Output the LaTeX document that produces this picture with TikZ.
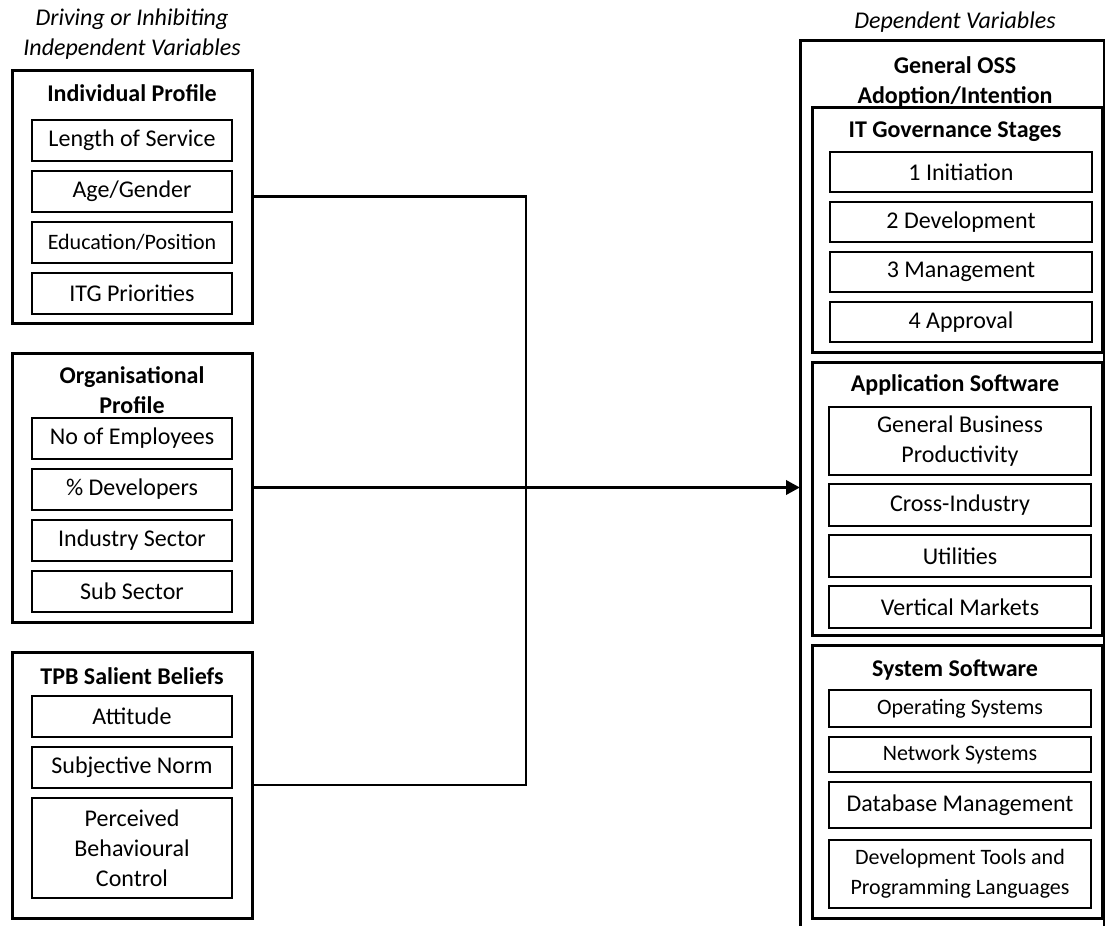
\documentclass[tikz,border=0pt]{standalone}
\usepackage{fontspec}
\setmainfont{Carlito}
\usepackage{tikz}
\usetikzlibrary{positioning,arrows.meta}

\begin{document}
\begin{tikzpicture}[
  x=0.5pt, y=-0.5pt,
  font=\fontsize{12}{15}\selectfont,
  node distance=5pt,
  grupo/.style={rectangle, draw, line width=1.5pt, outer sep=0pt, anchor=north west},
  caja/.style={rectangle, draw, line width=1.4pt, outer sep=0pt, inner sep=2pt, minimum height=20.5pt, align=center},
  izq/.style={caja, minimum width=100pt},
  der/.style={caja, minimum width=131pt},
  titulo/.style={font=\fontsize{12}{15}\selectfont\bfseries, align=center, inner sep=0pt},
  encabezado/.style={font=\fontsize{12}{15}\selectfont\itshape, align=center, inner sep=0pt},
  chica/.style={font=\fontsize{11}{15}\selectfont},
  linea/.style={draw, line width=1.4pt},
  flecha/.style={-{Triangle[length=7pt, width=7pt]}, draw, line width=1.8pt}
]
\useasboundingbox (0,0) rectangle (1105,926);
\clip (0,0) rectangle (1105,926);

% encabezados
\node[encabezado] (hizq) at (132,34) {Driving or Inhibiting\\Independent Variables};
\node[encabezado] (hder) at (955,22) {Dependent Variables};

% variables independientes
\node[grupo, minimum width=120pt, minimum height=126.5pt] (ip) at (12,70) {};
\node[titulo] (tip) at (132,93) {Individual Profile};
\node[izq, anchor=north] (los) at (132,120) {Length of Service};
\node[izq, below=of los] (ag) {Age/Gender};
\node[izq, chica, below=of ag] (ep) {Education/Position};
\node[izq, below=of ep] (itg) {ITG Priorities};

\node[grupo, minimum width=120pt, minimum height=134.5pt] (op) at (12,353) {};
\node[titulo] (top) at (132,390) {Organisational\\Profile};
\node[izq, anchor=north] (ne) at (132,418) {No of Employees};
\node[izq, below=of ne] (pd) {\% Developers};
\node[izq, below=of pd] (is) {Industry Sector};
\node[izq, below=of is] (sub) {Sub Sector};

\node[grupo, minimum width=120pt, minimum height=133pt] (tpb) at (12,652) {};
\node[titulo] (ttpb) at (132,676) {TPB Salient Beliefs};
\node[izq, anchor=north] (att) at (132,696) {Attitude};
\node[izq, below=of att] (sn) {Subjective Norm};
\node[izq, below=of sn, minimum height=50pt] (pbc) {Perceived\\Behavioural\\Control};

% variables dependientes
\node[grupo, minimum width=152pt, minimum height=460pt] (dv) at (800,40) {};
\node[titulo] (tdv) at (955,82) {General OSS\\Adoption/Intention};

\node[grupo, minimum width=145pt, minimum height=122.5pt] (itgs) at (812,107) {};
\node[titulo] (titgs) at (955,132) {IT Governance Stages};
\node[der, anchor=north, minimum height=20pt] (s1) at (961,152) {1 Initiation};
\node[der, below=of s1, minimum height=20pt] (s2) {2 Development};
\node[der, below=of s2, minimum height=20pt] (s3) {3 Management};
\node[der, below=of s3, minimum height=20pt] (s4) {4 Approval};

\node[grupo, minimum width=145pt, minimum height=136.5pt] (as) at (812,362) {};
\node[titulo] (tas) at (955,385) {Application Software};
\node[der, anchor=north, minimum height=34pt] (gbp) at (960,407) {General Business\\Productivity};
\node[der, below=4.5pt of gbp, minimum height=21pt] (ci) {Cross-Industry};
\node[der, below=4.5pt of ci, minimum height=21pt] (ut) {Utilities};
\node[der, below=4.5pt of ut, minimum height=21pt] (vm) {Vertical Markets};

\node[grupo, minimum width=145pt, minimum height=136.5pt] (ss) at (812,645) {};
\node[titulo] (tss) at (955,670) {System Software};
\node[der, chica, anchor=north, minimum height=18.5pt] (os) at (960,690) {Operating Systems};
\node[der, chica, below=of os, minimum height=17.5pt] (ns) {Network Systems};
\node[der, below=of ns, minimum height=23pt] (db) {Database Management};
\node[der, chica, below=6pt of db, minimum height=34pt] (dt) {Development Tools and\\Programming Languages};

% conexiones
\coordinate (bus) at (526,487);
\draw[linea] (ip.east) -- (ip.east -| bus) -- (tpb.east -| bus) -- (tpb.east);
\draw[linea] (op.east) -- (op.east -| bus);
\draw[flecha] (op.east -| bus) -- (op.east -| dv.west);
\end{tikzpicture}
\end{document}
